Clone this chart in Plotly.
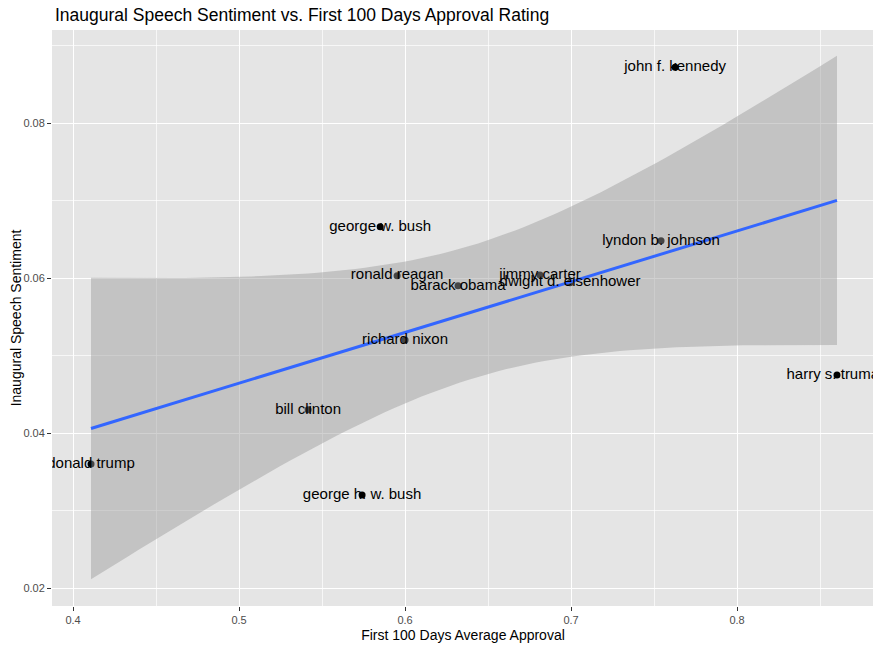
import numpy as np
import plotly.graph_objects as go

presidents = ["john f. kennedy", "george w. bush", "lyndon b. johnson", "ronald reagan",
              "jimmy carter", "barack obama", "dwight d. eisenhower", "richard nixon",
              "harry s. truman", "bill clinton", "donald trump", "george h. w. bush"]
approval = [0.7627, 0.585, 0.7542, 0.5952, 0.6813, 0.6319, 0.6994, 0.600,
            0.8602, 0.5416, 0.4108, 0.5741]
sentiment = [0.0872, 0.0666, 0.0648, 0.0603, 0.0604, 0.0590, 0.0594, 0.0520,
             0.0475, 0.0430, 0.0360, 0.0320]

x = np.array(approval)
y = np.array(sentiment)
n = len(x)
b1, b0 = np.polyfit(x, y, 1)
resid = y - (b0 + b1 * x)
s = np.sqrt(np.sum(resid ** 2) / (n - 2))
sxx = np.sum((x - x.mean()) ** 2)
t_crit = 2.228139  # t quantile 0.975, df=10
xs = np.linspace(x.min(), x.max(), 80)
fit = b0 + b1 * xs
se = s * np.sqrt(1.0 / n + (xs - x.mean()) ** 2 / sxx)
upper = fit + t_crit * se
lower = fit - t_crit * se

fig = go.Figure()
fig.add_trace(go.Scatter(x=approval, y=sentiment, mode="markers",
                         marker=dict(color="black", size=7), showlegend=False,
                         cliponaxis=True))
fig.add_trace(go.Scatter(x=np.concatenate([xs, xs[::-1]]),
                         y=np.concatenate([upper, lower[::-1]]),
                         mode="lines", line=dict(width=0), fill="toself",
                         fillcolor="rgba(153,153,153,0.45)", showlegend=False,
                         hoverinfo="skip"))
fig.add_trace(go.Scatter(x=xs, y=fit, mode="lines",
                         line=dict(color="#3366FF", width=3), showlegend=False))
fig.add_trace(go.Scatter(x=approval, y=sentiment, mode="text", text=presidents,
                         textposition="middle center",
                         textfont=dict(family="Liberation Sans", size=15, color="black"),
                         showlegend=False, cliponaxis=True))

axis_common = dict(showgrid=True, gridcolor="white", gridwidth=1.3, zeroline=False,
                   ticks="outside", ticklen=4, tickcolor="#333333", tickwidth=1,
                   tickfont=dict(family="Liberation Sans", size=11, color="#4D4D4D"),
                   showline=False, automargin=False)

# page body has an 8px default margin; sizes compensate for it
fig.update_layout(
    width=873, height=641,
    margin=dict(l=44, r=7, t=22, b=43, autoexpand=False),
    paper_bgcolor="white", plot_bgcolor="#E5E5E5",
    title=dict(text="Inaugural Speech Sentiment vs. First 100 Days Approval Rating",
               x=47 / 873, xref="container", xanchor="left", y=1, yref="container",
               yanchor="top", pad=dict(t=1),
               font=dict(family="Liberation Sans", size=17.5, color="black")),
    xaxis=dict(range=[0.3873, 0.8825], tickvals=[0.4, 0.5, 0.6, 0.7, 0.8],
               ticktext=["0.4", "0.5", "0.6", "0.7", "0.8"],
               minor=dict(tickvals=[0.45, 0.55, 0.65, 0.75, 0.85], showgrid=True,
                          gridcolor="rgba(255,255,255,0.7)", gridwidth=0.6, ticks=""),
               title=dict(text="First 100 Days Average Approval", standoff=4,
                          font=dict(family="Liberation Sans", size=14, color="black")),
               **axis_common),
    yaxis=dict(range=[0.01768, 0.0920], tickvals=[0.02, 0.04, 0.06, 0.08],
               ticktext=["0.02", "0.04", "0.06", "0.08"],
               minor=dict(tickvals=[0.03, 0.05, 0.07, 0.09], showgrid=True,
                          gridcolor="rgba(255,255,255,0.7)", gridwidth=0.6, ticks=""),
               title=dict(text="Inaugural Speech Sentiment", standoff=6,
                          font=dict(family="Liberation Sans", size=14, color="black")),
               **axis_common),
)

fig.write_html("out.html")
